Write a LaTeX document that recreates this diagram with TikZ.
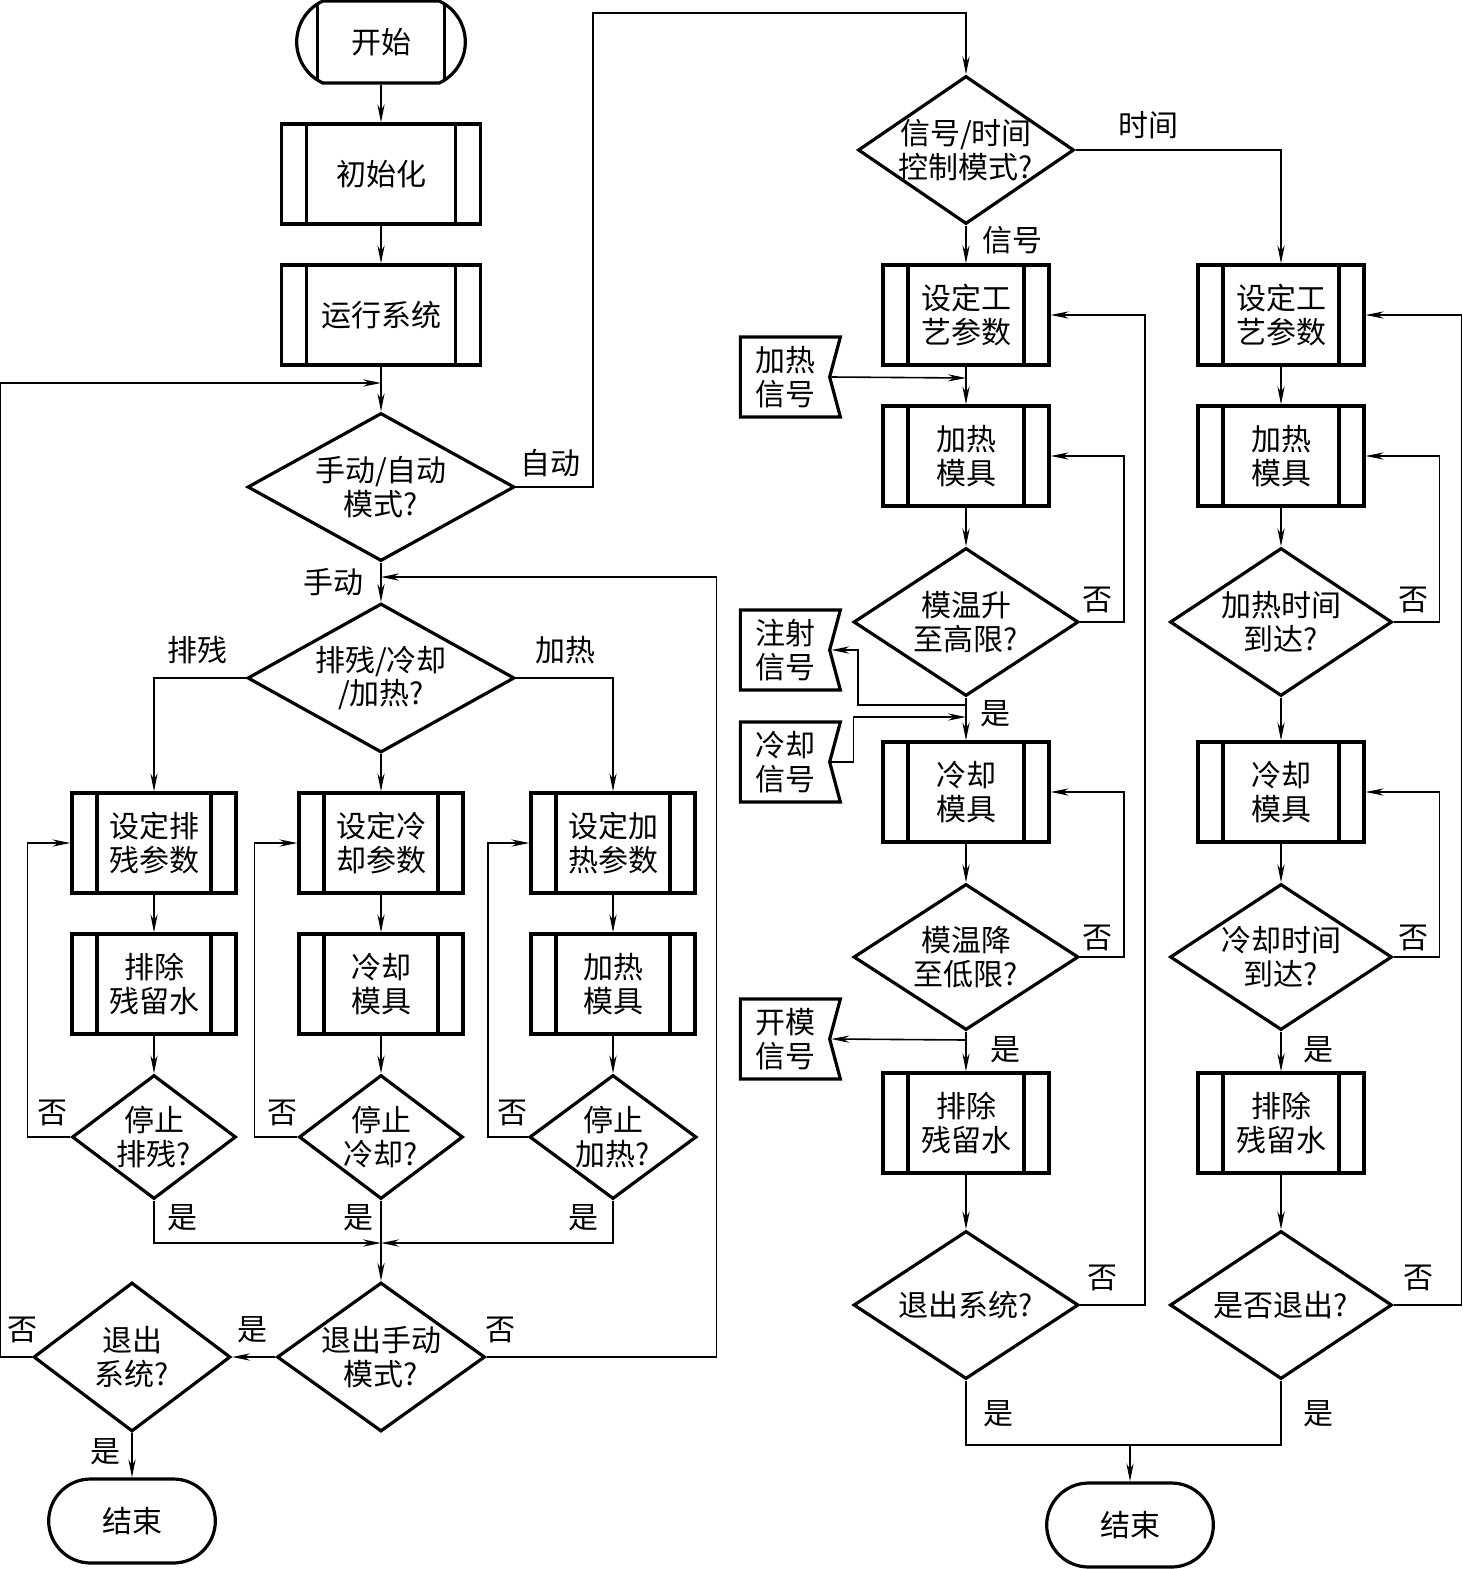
\documentclass[tikz,border=0pt]{standalone}
\usepackage{fontspec}
\setmainfont{Noto Sans CJK SC}
\usepackage{tikz}
\usetikzlibrary{shapes.geometric,shapes.misc,shapes.symbols,arrows.meta}

\begin{document}
\begin{tikzpicture}[x=0.5pt,y=-0.5pt,>={Stealth[length=9pt,width=3.6pt]},
  every node/.style={font=\fontsize{15}{16.8}\selectfont},
  proc/.style={draw,line width=1.6pt,minimum height=50pt,align=center,inner sep=0pt,
    path picture={\draw[line width=1.6pt]
      ([xshift=12.5pt]path picture bounding box.north west) -- ([xshift=12.5pt]path picture bounding box.south west)
      ([xshift=-12.5pt]path picture bounding box.north east) -- ([xshift=-12.5pt]path picture bounding box.south east);}},
  dec/.style={draw,diamond,line width=1.6pt,inner sep=-6pt,shape aspect=1.8,align=center},
  term/.style={draw,rounded rectangle,line width=1.6pt,minimum width=90pt,minimum height=42pt},
  startbox/.style={term,rounded rectangle arc length=130,minimum width=91pt,minimum height=41pt,
    path picture={\draw[line width=1.6pt]
      ([xshift=13.5pt]path picture bounding box.north west) -- ([xshift=13.5pt]path picture bounding box.south west)
      ([xshift=-13.5pt]path picture bounding box.north east) -- ([xshift=-13.5pt]path picture bounding box.south east);}},
  sig/.style={draw,signal,signal to=nowhere,signal from=east,signal pointer angle=150,
    line width=1.6pt,minimum width=50pt,minimum height=40pt,inner sep=0pt,align=center},
  link/.style={line width=0.8pt},
]
\useasboundingbox (0,0) rectangle (1462,1569);

% manual side
\node[startbox] (start) at (381,42) {开始};
\node[proc,minimum width=99.5pt] (init) at (381,174) {初始化};
\node[proc,minimum width=99.5pt] (run) at (381,315) {运行系统};
\node[dec,minimum width=133.5pt,minimum height=74pt] (dmode) at (381,487) {手动/自动\\模式?};
\node[dec,minimum width=133.5pt,minimum height=74.5pt] (dsel) at (381,678) {排残/冷却\\/加热?};
\node[proc,minimum width=82pt] (setp) at (154,843) {设定排\\残参数};
\node[proc,minimum width=82pt] (setc) at (381,843) {设定冷\\却参数};
\node[proc,minimum width=82pt] (seth) at (613,843) {设定加\\热参数};
\node[proc,minimum width=82pt] (drain) at (154,984) {排除\\残留水};
\node[proc,minimum width=82pt] (cool) at (381,984) {冷却\\模具};
\node[proc,minimum width=82pt] (heat) at (613,984) {加热\\模具};
\node[dec,minimum width=82pt,minimum height=62pt] (stp) at (154,1137) {停止\\排残?};
\node[dec,minimum width=82pt,minimum height=62pt] (stc) at (381,1137) {停止\\冷却?};
\node[dec,minimum width=83.5pt,minimum height=62pt] (sth) at (613,1137) {停止\\加热?};
\node[dec,minimum width=104pt,minimum height=74.5pt] (dman) at (381,1357) {退出手动\\模式?};
\node[dec,minimum width=98.5pt,minimum height=74.5pt] (dsys) at (132,1357) {退出\\系统?};
\node[term] (endl) at (132,1521) {结束};

\coordinate (jtop) at (381,383);
\coordinate (jmid) at (381,577);
\coordinate (jbot) at (381,1243);

\node (lauto) at (550,463) {自动};
\node (lman) at (333,582) {手动};
\node (lpc) at (197,650) {排残};
\node (lht) at (565,650) {加热};
\node (lnp) at (52,1113) {否};
\node (lnc) at (282,1113) {否};
\node (lnh) at (512,1113) {否};
\node (lyp) at (182,1218) {是};
\node (lyc) at (358,1218) {是};
\node (lyh) at (583,1218) {是};
\node (lym) at (252,1330) {是};
\node (lnm) at (500,1330) {否};
\node (lns) at (22,1330) {否};
\node (lys) at (105,1452) {是};

\draw[link,->] (start) -- (init);
\draw[link,->] (init) -- (run);
\draw[link,->] (run) -- (dmode);
\draw[link,->] (dsys.west) -- ++(-32,0) |- (jtop);
\draw[link,->] (dmode) -- (dsel);
\draw[link,->] (dman.east) -- ++(230,0) |- (jmid);
\draw[link,->] (dsel.west) -| (setp.north);
\draw[link,->] (dsel) -- (setc);
\draw[link,->] (dsel.east) -| (seth.north);
\draw[link,->] (setp) -- (drain);
\draw[link,->] (setc) -- (cool);
\draw[link,->] (seth) -- (heat);
\draw[link,->] (drain) -- (stp);
\draw[link,->] (cool) -- (stc);
\draw[link,->] (heat) -- (sth);
\draw[link,->] (stp.west) -- ++(-43,0) |- (setp.west);
\draw[link,->] (stc.west) -- ++(-43,0) |- (setc.west);
\draw[link,->] (sth.west) -- ++(-40,0) |- (seth.west);
\draw[link,->] (stp.south) |- (jbot);
\draw[link,->] (sth.south) |- (jbot);
\draw[link,->] (stc) -- (dman);
\draw[link,->] (dman) -- (dsys);
\draw[link,->] (dsys) -- (endl);

% automatic side
\node[dec,minimum width=108pt,minimum height=74pt] (dctl) at (966,150) {信号/时间\\控制模式?};
\node[proc,minimum width=83pt] (parA) at (966,315) {设定工\\艺参数};
\node[proc,minimum width=83pt] (parB) at (1281,315) {设定工\\艺参数};
\node[proc,minimum width=83pt] (heatA) at (966,456) {加热\\模具};
\node[proc,minimum width=83pt] (heatB) at (1281,456) {加热\\模具};
\node[dec,minimum width=112.5pt,minimum height=74pt] (dhiA) at (966,622) {模温升\\至高限?};
\node[dec,minimum width=111pt,minimum height=74pt] (dhiB) at (1281,622) {加热时间\\到达?};
\node[proc,minimum width=83pt] (coolA) at (966,792) {冷却\\模具};
\node[proc,minimum width=83pt] (coolB) at (1281,792) {冷却\\模具};
\node[dec,minimum width=112.5pt,minimum height=73pt] (dloA) at (966,957) {模温降\\至低限?};
\node[dec,minimum width=111pt,minimum height=73pt] (dloB) at (1281,957) {冷却时间\\到达?};
\node[proc,minimum width=83pt] (drainA) at (966,1123) {排除\\残留水};
\node[proc,minimum width=83pt] (drainB) at (1281,1123) {排除\\残留水};
\node[dec,minimum width=112.5pt,minimum height=74pt] (dexA) at (966,1305) {退出系统?};
\node[dec,minimum width=111pt,minimum height=74pt] (dexB) at (1281,1305) {是否退出?};
\node[term] (endr) at (1130,1525) {结束};

\node[sig] (sheat) at (785,377) {加热\\信号};
\node[sig] (sinj) at (785,650) {注射\\信号};
\node[sig] (scool) at (785,762) {冷却\\信号};
\node[sig] (sopen) at (785,1039) {开模\\信号};

\coordinate (jh) at (966,378);
\coordinate (ji) at (966,705);
\coordinate (jc) at (966,717);
\coordinate (jo) at (966,1040);
\coordinate (jend) at (1130,1445);

\node (ltime) at (1148,125) {时间};
\node (lsig) at (1012,240) {信号};
\node (lnhA) at (1097,600) {否};
\node (lnhB) at (1413,600) {否};
\node (lyhA) at (995,714) {是};
\node (lnlA) at (1097,938) {否};
\node (lnlB) at (1413,938) {否};
\node (lylA) at (1005,1050) {是};
\node (lylB) at (1318,1050) {是};
\node (lnxA) at (1102,1278) {否};
\node (lnxB) at (1418,1278) {否};
\node (lyxA) at (998,1414) {是};
\node (lyxB) at (1318,1414) {是};

\draw[link,->] (dmode.east) -| ++(77,-474) -| (dctl.north);
\draw[link,->] (dctl) -- (parA);
\draw[link,->] (dctl.east) -| (parB.north);
\draw[link,->] (parA) -- (heatA);
\draw[link,->] (sheat.east) -- (jh);
\draw[link,->] (heatA) -- (dhiA);
\draw[link,->] (dhiA.east) -- ++(44,0) |- (heatA.east);
\draw[link,->] (dhiA) -- (coolA);
\draw[link,->] (ji) -- ++(-108,0) |- (sinj.east);
\draw[link,->] (scool.east) -- ++(22,0) |- (jc);
\draw[link,->] (coolA) -- (dloA);
\draw[link,->] (dloA.east) -- ++(44,0) |- (coolA.east);
\draw[link,->] (dloA) -- (drainA);
\draw[link,->] (jo) -- (sopen.east);
\draw[link,->] (drainA) -- (dexA);
\draw[link,->] (dexA.east) -- ++(65,0) |- (parA.east);

\draw[link,->] (parB) -- (heatB);
\draw[link,->] (heatB) -- (dhiB);
\draw[link,->] (dhiB.east) -- ++(46,0) |- (heatB.east);
\draw[link,->] (dhiB) -- (coolB);
\draw[link,->] (coolB) -- (dloB);
\draw[link,->] (dloB.east) -- ++(46,0) |- (coolB.east);
\draw[link,->] (dloB) -- (drainB);
\draw[link,->] (drainB) -- (dexB);
\draw[link,->] (dexB.east) -- ++(68,0) |- (parB.east);

\draw[link] (dexA.south) |- (jend) -| (dexB.south);
\draw[link,->] (jend) -- (endr);
\end{tikzpicture}
\end{document}
